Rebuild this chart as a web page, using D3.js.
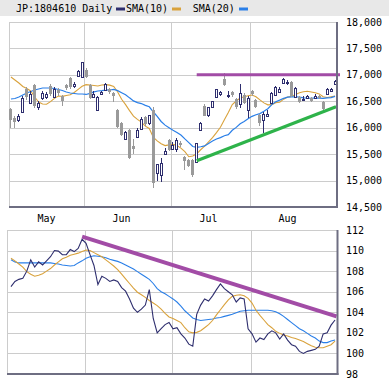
<!DOCTYPE html>
<html><head><meta charset="utf-8">
<script src="https://cdn.jsdelivr.net/npm/d3@7"></script>
<style>
html,body{margin:0;padding:0;background:#fff;}
svg{display:block;}
text{font-family:"DejaVu Sans Mono",monospace;font-size:10px;fill:#000;}
</style></head><body>
<svg id="chart" width="389" height="387"></svg>
<script>
// ---------------- DATA ----------------
const dates = ["2016-05-02","2016-05-06","2016-05-09","2016-05-10","2016-05-11","2016-05-12","2016-05-13","2016-05-16","2016-05-17","2016-05-18","2016-05-19","2016-05-20","2016-05-23","2016-05-24","2016-05-25","2016-05-26","2016-05-27","2016-05-30","2016-05-31",
"2016-06-01","2016-06-02","2016-06-03","2016-06-06","2016-06-07","2016-06-08","2016-06-09","2016-06-10","2016-06-13","2016-06-14","2016-06-15","2016-06-16","2016-06-17","2016-06-20","2016-06-21","2016-06-22","2016-06-23","2016-06-24","2016-06-27","2016-06-28","2016-06-29","2016-06-30",
"2016-07-01","2016-07-04","2016-07-05","2016-07-06","2016-07-07","2016-07-08","2016-07-11","2016-07-12","2016-07-13","2016-07-14","2016-07-15","2016-07-19","2016-07-20","2016-07-21","2016-07-22","2016-07-25","2016-07-26","2016-07-27","2016-07-28","2016-07-29",
"2016-08-01","2016-08-02","2016-08-03","2016-08-04","2016-08-05","2016-08-08","2016-08-09","2016-08-10","2016-08-12","2016-08-15","2016-08-16","2016-08-17","2016-08-18","2016-08-19","2016-08-22","2016-08-23","2016-08-24","2016-08-25","2016-08-26","2016-08-29","2016-08-30","2016-08-31"];

const openPrices = [16350,16190,16150,16300,16730,16470,16800,16400,16560,16580,16780,16590,16720,16600,16800,16940,16790,16980,16960,
17100,16810,16580,16335,16640,16715,16730,16660,16335,16090,15780,15955,15650,15830,15980,16200,16080,16335,15140,15110,15500,15770,
15600,15590,15720,15450,15380,15390,15350,15960,16420,16240,16390,16580,16640,16920,16600,16680,16545,16450,16620,16335,
16700,16520,16240,16150,16230,16470,16620,16680,16850,16840,16865,16580,16580,16520,16560,16570,16560,16600,16490,16640,16700,16830];
const highPrices = [16380,16230,16260,16600,16770,16700,16830,16500,16700,16680,16830,16770,16750,16620,16830,16960,16860,17090,17250,
17130,16830,16700,16600,16700,16840,16760,16680,16350,16100,15930,15980,15780,16000,16200,16230,16250,16390,15320,15430,15620,15790,
15730,15800,15740,15470,15400,15400,15720,16110,16440,16400,16510,16730,16700,17035,16700,16700,16560,16820,16650,16600,
16720,16540,16260,16290,16330,16670,16790,16770,16940,16900,16880,16770,16600,16600,16620,16590,16630,16620,16510,16760,16760,16900];
const lowPrices = [16000,15990,16100,16280,16520,16440,16380,16330,16530,16540,16600,16560,16600,16410,16720,16740,16760,16960,16940,
16940,16540,16560,16310,16620,16700,16640,16490,16000,15840,15760,15400,15500,15810,15950,16040,16060,14860,14990,14970,15480,15560,
15570,15550,15640,15200,15250,15060,15340,15940,16220,16200,16380,16560,16600,16780,16560,16580,16360,16380,16450,16180,
16600,16370,16040,15900,16200,16450,16600,16650,16830,16800,16580,16560,16460,16500,16540,16480,16550,16540,16340,16620,16680,16810];
const closePrices = [16147,16106,16216,16565,16579,16646,16412,16466,16652,16644,16646,16736,16654,16498,16757,16772,16834,17068,17234,
16955,16562,16642,16580,16675,16830,16668,16601,16019,15859,15919,15434,15599,15965,16169,16065,16238,14952,15309,15323,15566,15575,
15682,15775,15669,15378,15276,15106,15708,16095,16231,16385,16497,16723,16681,16810,16627,16620,16383,16664,16476,16569,
16635,16391,16083,16254,16254,16650,16764,16735,16919,16869,16596,16745,16486,16545,16598,16497,16597,16556,16360,16737,16725,16887];

const sma10 = [16960,16903,16846,16780,16742,16695,16581,16486,16449,16443,16493,16556,16600,16593,16611,16624,16666,16726,16784,
16815,16807,16798,16790,16808,16815,16805,16782,16677,16539,16436,16323,16218,16157,16106,16030,15987,15822,15751,15697,15662,15676,
15684,15665,15615,15547,15451,15466,15506,15583,15650,15731,15812,15907,16008,16151,16286,16438,16505,16562,16587,16605,
16619,16586,16526,16470,16433,16436,16474,16481,16540,16580,16590,16630,16660,16680,16690,16675,16660,16640,16585,16572,16585,16599];
const sma20 = [16543,16553,16581,16619,16657,16685,16713,16732,16751,16751,16751,16742,16723,16704,16676,16657,16647,16638,16638,
16629,16650,16677,16695,16701,16713,16714,16724,16701,16662,16625,16565,16508,16474,16457,16423,16396,16302,16214,16118,16049,15999,
15951,15911,15861,15788,15719,15644,15628,15640,15656,15703,15748,15786,15812,15849,15868,15952,16006,16073,16118,16168,
16215,16246,16267,16311,16360,16437,16490,16522,16556,16580,16585,16586,16577,16563,16562,16556,16566,16561,16555,16564,16568,16593];

const relLine = [106.5,107.0,107.2,107.3,108.0,109.1,108.4,108.9,108.6,109.0,109.4,110.0,109.95,109.6,109.6,110.1,109.9,110.2,111.1,
110.7,109.6,108.55,106.7,107.5,107.3,107.0,107.15,107.0,106.4,106.05,105.3,104.4,104.0,104.3,104.7,106.2,103.4,102.0,102.4,102.8,103.0,
102.4,102.5,101.9,101.5,100.9,100.7,103.8,104.7,105.3,105.1,105.6,106.2,106.75,106.3,106.0,105.7,105.0,105.4,105.3,102.4,
101.9,101.1,101.5,101.35,101.9,102.2,102.0,101.4,101.9,101.3,100.85,100.7,100.2,100.0,100.2,100.3,100.4,100.7,101.9,102.0,102.75,103.25];
const relSma10 = [109.25,109.0,108.7,108.4,107.95,107.7,107.5,107.6,107.75,108.0,108.25,108.6,108.9,109.2,109.35,109.55,109.65,109.75,109.9,
110.05,110.0,109.8,109.6,109.4,109.1,108.8,108.5,108.15,107.7,107.25,106.8,106.35,105.95,105.7,105.45,105.15,104.9,104.65,104.3,103.9,103.55,
103.4,103.2,103.0,102.5,102.1,102.0,102.05,102.2,102.5,102.8,103.2,103.75,104.25,104.75,105.2,105.55,105.65,105.7,105.6,105.35,
104.9,104.2,103.7,103.25,102.8,102.5,102.15,101.95,101.8,101.7,101.55,101.45,101.3,101.15,100.95,100.75,100.6,100.55,100.55,100.7,100.85,101.2];
const relSma20 = [109.1,108.9,108.8,108.8,108.8,108.8,108.8,108.8,108.8,108.8,108.8,108.75,108.7,108.6,108.55,108.5,108.55,108.8,109.0,
109.25,109.4,109.5,109.45,109.4,109.3,109.15,109.05,108.95,108.8,108.6,108.4,108.2,107.95,107.7,107.45,107.2,106.8,106.3,106.0,105.8,105.55,
105.3,105.0,104.6,104.15,103.8,103.45,103.3,103.2,103.25,103.3,103.35,103.45,103.5,103.6,103.7,103.8,103.95,104.1,104.15,104.2,
104.2,104.2,104.2,104.2,104.2,104.15,104.05,103.85,103.6,103.3,103.0,102.7,102.4,102.2,101.95,101.7,101.5,101.2,101.05,101.05,101.2,101.3];

const priceTicks = [14500,15000,15500,16000,16500,17000,17500,18000];
const relTicks = [98,100,102,104,106,108,110,112];
const monthNames = ["May","Jun","Jul","Aug"];
const monthFirstDays = ["2016-05-02","2016-06-01","2016-07-01","2016-08-01"];

// drawn trend lines (start/end date and value)
const resistanceDates = ["2016-07-11","2016-08-31"];
const resistanceValues = [17000,17000];
const supportDates = ["2016-07-11","2016-08-31"];
const supportValues = [15376,16398];
const relTrendDates = ["2016-05-31","2016-08-31"];
const relTrendValues = [111.35,103.6];

const legendLabels = ["JP:1804610 Daily","SMA(10)","SMA(20)"];

// ---------------- STYLE ----------------
const NAVY="#2e2e6e", GRAYC="#9a9a9a", ORANGE="#d9a23c", BLUE="#2a7fe8",
      GRID="#cccccc", FRAME="#6e6e82", PURPLE="#a24ca6", GREEN="#2eb34a";

const svg = d3.select("#chart");
const W = 389;

// header band
svg.append("rect").attr("x",0).attr("y",0).attr("width",W).attr("height",16).attr("fill","#e8e8e8");
const legendX = [16,126,192.7];
const swatchX = [116,172,239];
const legendColors = [NAVY,ORANGE,BLUE];
legendLabels.forEach((t,i)=>{
  svg.append("text").attr("x",legendX[i]).attr("y",12).text(t);
  svg.append("rect").attr("x",swatchX[i]).attr("y",7.5).attr("width",9).attr("height",3).attr("fill",legendColors[i]);
});

// scales
const x = d3.scaleBand().domain(dates).range([9,337]).padding(0);
const cx = d => x(d) + x.bandwidth()/2;
const yP = d3.scaleLinear().domain([14500,18000]).range([207,22]);
const yR = d3.scaleLinear().domain([98,112]).range([374,230]);

// ---------- TOP PANEL ----------
const topG = svg.append("g");
const tL=9, tR=337, tT=22, tB=207;
topG.append("g").selectAll("line").data(priceTicks.slice(1,-1)).join("line")
  .attr("x1",tL).attr("x2",tR).attr("y1",d=>Math.round(yP(d))+0.5).attr("y2",d=>Math.round(yP(d))+0.5)
  .attr("stroke",GRID).attr("stroke-width",1);
topG.append("g").selectAll("line").data(monthFirstDays.slice(1)).join("line")
  .attr("x1",d=>Math.round(x(d))+0.5).attr("x2",d=>Math.round(x(d))+0.5).attr("y1",tT).attr("y2",tB)
  .attr("stroke",GRID).attr("stroke-width",1);
topG.append("line").attr("x1",tL+0.5).attr("x2",tL+0.5).attr("y1",tT).attr("y2",tB).attr("stroke",GRID);
topG.append("line").attr("x1",tL).attr("x2",tR).attr("y1",tT+0.5).attr("y2",tT+0.5).attr("stroke",GRID);

const lineP = arr => d3.line().x((d,i)=>cx(dates[i])).y(d=>yP(d))(arr);
topG.append("path").attr("d",lineP(sma10)).attr("fill","none").attr("stroke",ORANGE).attr("stroke-width",1.1);
topG.append("path").attr("d",lineP(sma20)).attr("fill","none").attr("stroke",BLUE).attr("stroke-width",1.2);

const cg = topG.append("g").attr("shape-rendering","crispEdges");
dates.forEach((d,i)=>{
  const o=openPrices[i], c=closePrices[i], h=highPrices[i], l=lowPrices[i];
  const up = c>=o;
  const col = up?NAVY:GRAYC;
  const px = Math.floor(cx(d));
  cg.append("line").attr("x1",px+0.5).attr("x2",px+0.5).attr("y1",yP(h)).attr("y2",yP(l)).attr("stroke",col);
  const yt = Math.round(yP(Math.max(o,c))), yb = Math.round(yP(Math.min(o,c)));
  if(up){
    cg.append("rect").attr("x",px-0.5).attr("y",yt+0.5).attr("width",2).attr("height",Math.max(yb-yt,1))
      .attr("fill","#fff").attr("stroke",NAVY).attr("stroke-width",1);
  } else {
    cg.append("rect").attr("x",px-1).attr("y",yt).attr("width",3).attr("height",Math.max(yb-yt,1)).attr("fill",GRAYC);
  }
});

topG.append("line").attr("x1",cx(resistanceDates[0])).attr("x2",x(resistanceDates[1])+x.bandwidth()+3)
  .attr("y1",yP(resistanceValues[0])).attr("y2",yP(resistanceValues[1])).attr("stroke",PURPLE).attr("stroke-width",3);
topG.append("line").attr("x1",cx(supportDates[0])).attr("x2",cx(supportDates[1])+1)
  .attr("y1",yP(supportValues[0])).attr("y2",yP(supportValues[1])).attr("stroke",GREEN).attr("stroke-width",3.2);

topG.append("line").attr("x1",tR).attr("x2",tR).attr("y1",tT).attr("y2",tB+1).attr("stroke",FRAME).attr("stroke-width",2);
topG.append("line").attr("x1",tL).attr("x2",tR+1).attr("y1",tB).attr("y2",tB).attr("stroke",FRAME).attr("stroke-width",2);

svg.append("g").selectAll("text").data(priceTicks).join("text")
  .attr("x",346).attr("y",d=>yP(d)).attr("dy","0.35em").text(d=>d3.format(",")(d));

svg.append("g").selectAll("text").data(monthFirstDays).join("text")
  .attr("x",d=>x(d)+37.5).attr("y",218).attr("dy","0.35em").attr("text-anchor","middle").text((d,i)=>monthNames[i]);

// ---------- BOTTOM PANEL ----------
const botG = svg.append("g");
const bL=7, bR=337.5, bT=230, bB=374;
botG.append("g").selectAll("line").data(relTicks.slice(1,-1)).join("line")
  .attr("x1",bL).attr("x2",bR).attr("y1",d=>Math.round(yR(d))+0.5).attr("y2",d=>Math.round(yR(d))+0.5)
  .attr("stroke",GRID);
botG.append("g").selectAll("line").data(monthFirstDays.slice(1)).join("line")
  .attr("x1",d=>Math.round(x(d))+1.5).attr("x2",d=>Math.round(x(d))+1.5).attr("y1",bT).attr("y2",bB)
  .attr("stroke",GRID);
botG.append("line").attr("x1",bL+0.5).attr("x2",bL+0.5).attr("y1",bT).attr("y2",bB).attr("stroke",GRID);
botG.append("line").attr("x1",bL).attr("x2",bR).attr("y1",bT+0.5).attr("y2",bT+0.5).attr("stroke",GRID);

const lineR = arr => d3.line().x((d,i)=>cx(dates[i])).y(d=>yR(d))(arr);
botG.append("path").attr("d",lineR(relSma20)).attr("fill","none").attr("stroke",BLUE).attr("stroke-width",1.1);
botG.append("path").attr("d",lineR(relSma10)).attr("fill","none").attr("stroke",ORANGE).attr("stroke-width",1.1);
botG.append("path").attr("d",lineR(relLine)).attr("fill","none").attr("stroke",NAVY).attr("stroke-width",1.1);

botG.append("line").attr("x1",cx(relTrendDates[0])).attr("x2",cx(relTrendDates[1])+1.5)
  .attr("y1",yR(relTrendValues[0])).attr("y2",yR(relTrendValues[1])).attr("stroke",PURPLE).attr("stroke-width",4);

botG.append("line").attr("x1",bR).attr("x2",bR).attr("y1",bT).attr("y2",bB+1).attr("stroke",FRAME).attr("stroke-width",2);
botG.append("line").attr("x1",bL).attr("x2",bR+1).attr("y1",bB).attr("y2",bB).attr("stroke",FRAME).attr("stroke-width",2);

svg.append("g").selectAll("text").data(relTicks).join("text")
  .attr("x",346).attr("y",d=>yR(d)).attr("dy","0.35em").text(d=>d);
</script>
</body></html>
